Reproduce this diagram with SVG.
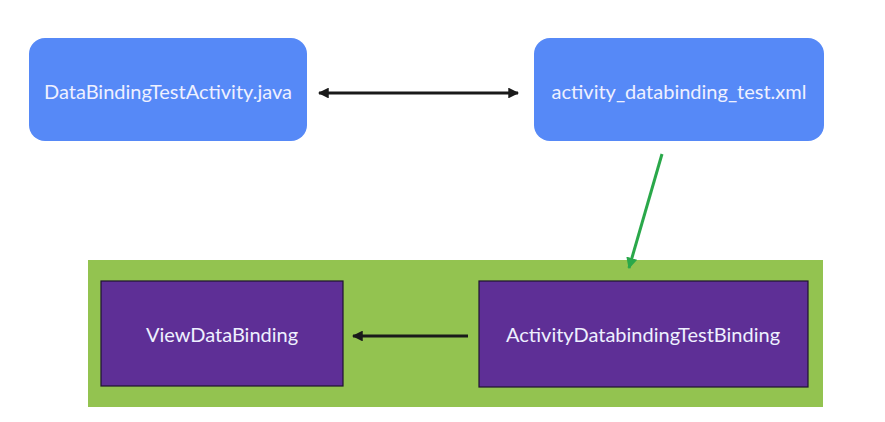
<svg xmlns="http://www.w3.org/2000/svg" width="885" height="422" viewBox="0 0 885 422">
<defs>
<style>
.blue{fill:#5689f7}
.purple{fill:#5e2f96;stroke:#1e1330;stroke-width:1.2}
.lbl{font-family:Lato,"Open Sans",sans-serif;font-size:20px;fill:#eef0ff;text-anchor:middle;dominant-baseline:central}
.blk{stroke:#1a1a1a;stroke-width:3;fill:none}
.grn{stroke:#2aa84a;stroke-width:3;fill:none}
</style>
<marker id="ah" viewBox="0 0 10 10" refX="9" refY="5" markerWidth="3.6" markerHeight="3.6" orient="auto-start-reverse" markerUnits="strokeWidth"><path d="M0,0 L10,5 L0,10 z" fill="#1a1a1a"/></marker>
<marker id="ahg" viewBox="0 0 10 10" refX="9" refY="5" markerWidth="3.8" markerHeight="3.8" orient="auto" markerUnits="strokeWidth"><path d="M0,0 L10,5 L0,10 z" fill="#2aa84a"/></marker>
</defs>
<rect width="885" height="422" fill="#ffffff"/>
<g id="container"><rect x="88" y="260" width="735" height="147" fill="#93c350"/></g>
<g id="java"><rect class="blue" x="29" y="38" width="278" height="103" rx="16"/><text class="lbl" x="168" y="91">DataBindingTestActivity.java</text></g>
<g id="xml"><rect class="blue" x="534" y="38" width="290" height="103" rx="16"/><text class="lbl" x="679" y="91">activity_databinding_test.xml</text></g>
<g id="viewdatabinding"><rect class="purple" x="101" y="281" width="242" height="105"/><text class="lbl" x="222" y="334">ViewDataBinding</text></g>
<g id="activitybinding"><rect class="purple" x="479" y="281" width="329" height="106"/><text class="lbl" x="643" y="334">ActivityDatabindingTestBinding</text></g>
<g id="connectors">
<line class="blk" x1="319" y1="93" x2="518" y2="93" marker-start="url(#ah)" marker-end="url(#ah)"/>
<line class="blk" x1="468" y1="336" x2="353" y2="336" marker-end="url(#ah)"/>
<line class="grn" x1="662" y1="154" x2="629" y2="268" marker-end="url(#ahg)"/>
</g>
</svg>
